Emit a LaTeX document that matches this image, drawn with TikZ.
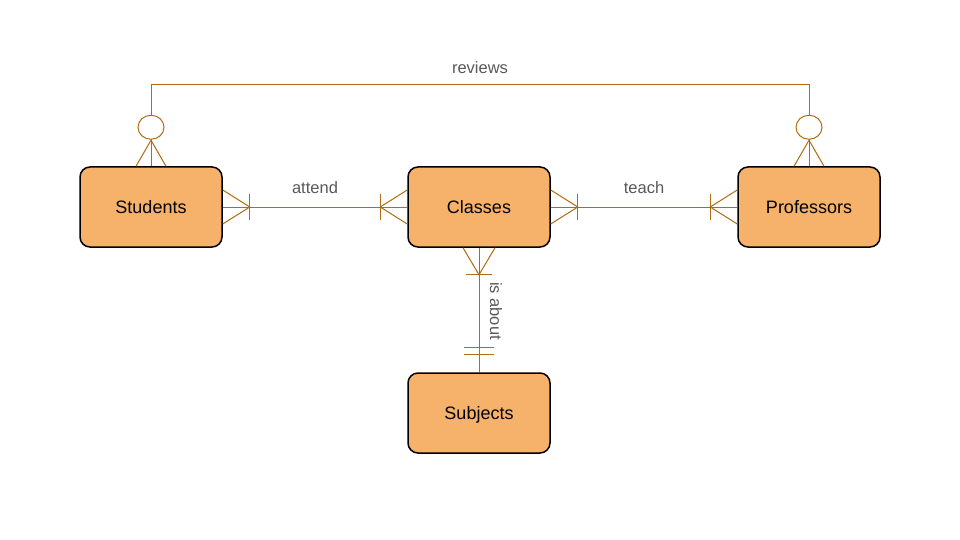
\documentclass[tikz,border=0pt]{standalone}
\usepackage{fontspec}
\setmainfont{Liberation Sans}
\usetikzlibrary{calc}
\definecolor{lnc}{HTML}{B06C12}
\definecolor{boxfill}{HTML}{F6B26B}
\definecolor{lbl}{HTML}{595959}
\tikzset{
  entity/.style={draw=black, line width=1.5pt, fill=boxfill, rounded corners=10pt,
    minimum width=142pt, minimum height=80pt, inner sep=0pt,
    text height=13pt, text depth=0pt,
    font=\fontsize{18pt}{20pt}\selectfont, text=black},
  conn/.style={draw=lnc, line width=1pt},
  lab/.style={font=\fontsize{16.5pt}{18pt}\selectfont, text=lbl, inner sep=1pt}
}
\begin{document}
\begin{tikzpicture}[x=1pt,y=-1pt]
\path[use as bounding box, fill=white] (0,0) rectangle (960,540);

\node[entity] (S) at (151,207) {Students};
\node[entity] (C) at (479,207) {Classes};
\node[entity] (P) at (809,207) {Professors};
\node[entity] (J) at (479,413) {Subjects};

% attend
\draw[conn] (S.east) -- (C.west);
\draw[conn] ($(S.east)+(0,-17)$) -- ($(S.east)+(27,0)$) -- ($(S.east)+(0,17)$);
\draw[conn] ($(S.east)+(27,-13)$) -- ($(S.east)+(27,13)$);
\draw[conn] ($(C.west)+(0,-17)$) -- ($(C.west)+(-27,0)$) -- ($(C.west)+(0,17)$);
\draw[conn] ($(C.west)+(-27,-13)$) -- ($(C.west)+(-27,13)$);
\node[lab] (la) at (315,188) {attend};

% teach
\draw[conn] (C.east) -- (P.west);
\draw[conn] ($(C.east)+(0,-17)$) -- ($(C.east)+(27,0)$) -- ($(C.east)+(0,17)$);
\draw[conn] ($(C.east)+(27,-13)$) -- ($(C.east)+(27,13)$);
\draw[conn] ($(P.west)+(0,-17)$) -- ($(P.west)+(-27,0)$) -- ($(P.west)+(0,17)$);
\draw[conn] ($(P.west)+(-27,-13)$) -- ($(P.west)+(-27,13)$);
\node[lab] (lt) at (644,188) {teach};

% is about
\draw[conn] (C.south) -- (J.north);
\draw[conn] ($(C.south)+(-16,0)$) -- ($(C.south)+(0,27)$) -- ($(C.south)+(16,0)$);
\draw[conn] ($(C.south)+(-13,27)$) -- ($(C.south)+(13,27)$);
\draw[conn] ($(J.north)+(-15,-25)$) -- ($(J.north)+(15,-25)$);
\draw[conn] ($(J.north)+(-15,-18)$) -- ($(J.north)+(15,-18)$);
\node[lab, rotate=-90] (li) at (496,311) {is about};

% reviews
\coordinate (r1) at (151,85);
\coordinate (r2) at (809,85);
\draw[conn] (S.north) -- (r1) -- (r2) -- (P.north);
\draw[conn] ($(S.north)+(-15,0)$) -- ($(S.north)+(0,-26)$) -- ($(S.north)+(15,0)$);
\draw[conn, fill=white] ($(S.north)+(0,-39)$) ellipse [x radius=13, y radius=12];
\draw[conn] ($(P.north)+(-15,0)$) -- ($(P.north)+(0,-26)$) -- ($(P.north)+(15,0)$);
\draw[conn, fill=white] ($(P.north)+(0,-39)$) ellipse [x radius=13, y radius=12];
\node[lab] (lr) at (480,68) {reviews};
\end{tikzpicture}
\end{document}
